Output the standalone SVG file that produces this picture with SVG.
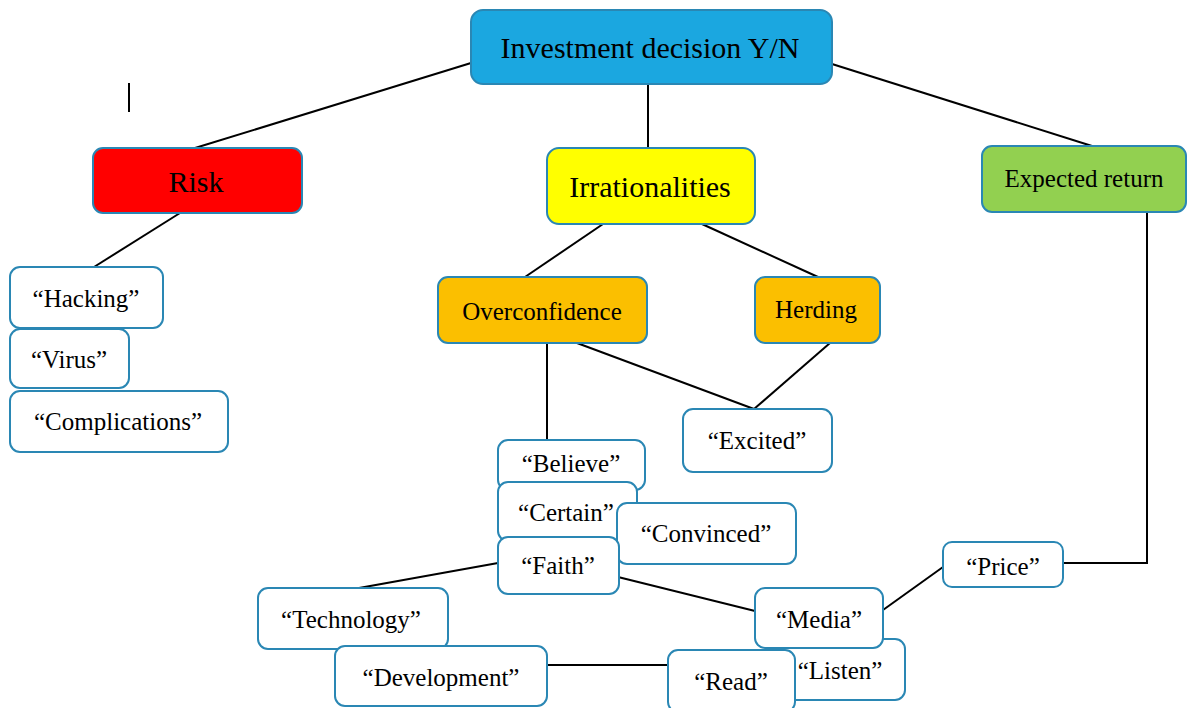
<svg xmlns="http://www.w3.org/2000/svg" width="1187" height="708" viewBox="0 0 1187 708">
<style>
.box{stroke:#2a87b4;stroke-width:2}
.w{fill:#ffffff}
.t{font-family:"Liberation Serif","Times New Roman",serif;fill:#000;text-anchor:middle;dominant-baseline:central;font-size:25px}
.big{font-size:30px}
.c line,.c polyline{stroke:#000;stroke-width:2;fill:none}
</style>
<rect width="1187" height="708" fill="#ffffff"/>
<g class="c" id="connectors">
<line x1="471" y1="63" x2="195" y2="148"/>
<line x1="648" y1="84" x2="648" y2="148"/>
<line x1="832" y1="64" x2="1092" y2="146"/>
<line x1="180" y1="213" x2="94" y2="267"/>
<line x1="603" y1="224" x2="525" y2="277"/>
<line x1="702" y1="224" x2="818" y2="277"/>
<line x1="547" y1="343" x2="547" y2="440"/>
<line x1="577" y1="343" x2="754" y2="409"/>
<line x1="830" y1="343" x2="754" y2="409"/>
<line x1="498" y1="563" x2="359" y2="588"/>
<line x1="618" y1="577" x2="755" y2="611"/>
<line x1="547" y1="665" x2="668" y2="665"/>
<line x1="883" y1="610" x2="943" y2="567"/>
<polyline points="1063,563 1147,563 1147,213"/>
<line x1="129" y1="83" x2="129" y2="112"/>
</g>
<g id="n-top"><rect class="box" x="471" y="10" width="361" height="74" rx="12" fill="#1ba7e0"/><text class="t big" x="650" y="47">Investment decision Y/N</text></g>
<g id="n-risk"><rect class="box" x="93" y="148" width="209" height="65" rx="10" fill="#ff0000"/><text class="t big" x="196" y="181">Risk</text></g>
<g id="n-irr"><rect class="box" x="547" y="148" width="208" height="76" rx="12" fill="#ffff00"/><text class="t big" x="650" y="186">Irrationalities</text></g>
<g id="n-exp"><rect class="box" x="982" y="146" width="204" height="66" rx="10" fill="#92d050"/><text class="t" x="1084" y="178">Expected return</text></g>
<g id="n-over"><rect class="box" x="438" y="277" width="209" height="66" rx="10" fill="#fbbf00"/><text class="t" x="542" y="311">Overconfidence</text></g>
<g id="n-herd"><rect class="box" x="755" y="277" width="125" height="66" rx="10" fill="#fbbf00"/><text class="t" x="816" y="309">Herding</text></g>
<g id="n-hacking"><rect class="box w" x="10" y="267" width="153" height="61" rx="10"/><text class="t" x="86" y="298">“Hacking”</text></g>
<g id="n-virus"><rect class="box w" x="10" y="329" width="119" height="59" rx="10"/><text class="t" x="69" y="359">“Virus”</text></g>
<g id="n-compl"><rect class="box w" x="10" y="391" width="218" height="61" rx="10"/><text class="t" x="118" y="421">“Complications”</text></g>
<g id="n-excited"><rect class="box w" x="683" y="409" width="149" height="63" rx="10"/><text class="t" x="757" y="440">“Excited”</text></g>
<g id="n-believe"><rect class="box w" x="498" y="440" width="147" height="50" rx="10"/><text class="t" x="571" y="463">“Believe”</text></g>
<g id="n-certain"><rect class="box w" x="498" y="482" width="139" height="59" rx="10"/><text class="t" x="566" y="512">“Certain”</text></g>
<g id="n-convinced"><rect class="box w" x="617" y="503" width="179" height="61" rx="10"/><text class="t" x="706" y="533">“Convinced”</text></g>
<g id="n-faith"><rect class="box w" x="498" y="537" width="121" height="57" rx="10"/><text class="t" x="558" y="565">“Faith”</text></g>
<g id="n-price"><rect class="box w" x="943" y="542" width="120" height="45" rx="9"/><text class="t" x="1003" y="566">“Price”</text></g>
<g id="n-tech"><rect class="box w" x="258" y="588" width="190" height="61" rx="10"/><text class="t" x="351" y="619">“Technology”</text></g>
<g id="n-dev"><rect class="box w" x="335" y="646" width="212" height="60" rx="10"/><text class="t" x="441" y="677">“Development”</text></g>
<g id="n-listen"><rect class="box w" x="772" y="639" width="133" height="61" rx="10"/><text class="t" x="840" y="670">“Listen”</text></g>
<g id="n-media"><rect class="box w" x="755" y="588" width="128" height="60" rx="10"/><text class="t" x="819" y="619">“Media”</text></g>
<g id="n-read"><rect class="box w" x="668" y="650" width="127" height="62" rx="10"/><text class="t" x="731" y="681">“Read”</text></g>
</svg>
